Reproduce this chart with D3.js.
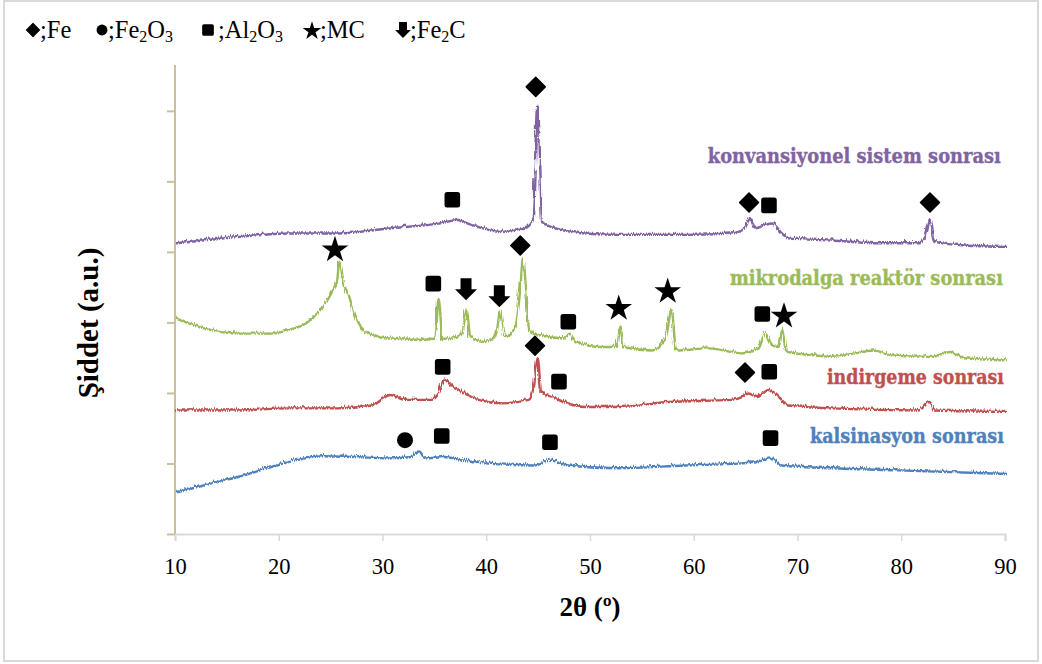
<!DOCTYPE html>
<html><head><meta charset="utf-8">
<script src="https://cdn.jsdelivr.net/npm/d3@7"></script>
<style>body{margin:0;background:#fff}</style>
</head><body><svg id="c" width="1042" height="664"></svg>
<script>
// ---------- data ----------
const xTicks = [10, 20, 30, 40, 50, 60, 70, 80, 90];
const yTicks = [0, 1, 2, 3, 4, 5, 6];
const seriesNames = ["konvansiyonel sistem sonrası", "mikrodalga reaktör sonrası", "indirgeme sonrası", "kalsinasyon sonrası"];
const seriesColors = ["#8064a2", "#9bbb59", "#c0504d", "#4f81bd"];

const konvansiyonel = [[10,4.15],[15.95,4.24],[20.77,4.29],[25.59,4.29],[30.41,4.36],[35.22,4.43],[37.15,4.48],[37.47,4.46],[39.08,4.38],[41.33,4.31],[43.54,4.36],[44.38,4.5],[44.6,5.3],[44.8,6.09],[45.0,5.3],[45.18,4.45],[46.14,4.38],[49.33,4.29],[52.57,4.27],[55.78,4.27],[58.96,4.27],[63.49,4.29],[64.62,4.34],[65.25,4.5],[65.71,4.36],[66.67,4.41],[67.35,4.43],[68.31,4.29],[68.96,4.22],[73.13,4.19],[77.95,4.15],[81.49,4.15],[82.1,4.22],[82.61,4.48],[83.06,4.17],[85.95,4.12],[90,4.1]];
const mikrodalga = [[10,3.08],[12.73,2.94],[15.95,2.87],[19.16,2.87],[20.77,2.92],[22.37,3.01],[23.98,3.22],[24.94,3.46],[25.42,3.6],[25.64,3.89],[26.07,3.58],[26.55,3.41],[27.19,3.13],[28.15,2.89],[30.41,2.8],[33.61,2.78],[34.9,2.8],[35.22,3.36],[35.61,2.78],[37.15,2.82],[37.47,2.85],[37.92,3.22],[38.27,2.82],[39.72,2.75],[40.68,2.82],[41.2,3.19],[41.64,2.82],[42.6,2.94],[43.09,3.51],[43.35,3.93],[43.64,3.51],[43.95,2.92],[44.86,2.85],[47.42,2.8],[47.9,2.87],[48.39,2.75],[50.96,2.68],[52.41,2.68],[52.73,2.97],[53.05,2.68],[55.78,2.63],[57.06,2.78],[57.68,3.2],[58.1,2.63],[61.25,2.66],[64.46,2.59],[66.05,2.66],[66.7,2.87],[67.35,2.71],[67.99,2.68],[68.41,2.94],[68.8,2.61],[71.52,2.56],[73.13,2.54],[75.38,2.59],[77.15,2.63],[78.92,2.56],[82.77,2.54],[84.53,2.61],[85.98,2.52],[90,2.49]];
const indirgeme = [[10,1.78],[15.95,1.78],[20.77,1.81],[25.59,1.81],[28.8,1.85],[30.56,2.0],[32.0,1.93],[34.58,1.93],[35.22,2.02],[35.86,2.21],[36.82,2.09],[37.47,2.04],[39.08,1.93],[41.33,1.88],[43.9,1.93],[44.38,2.09],[44.77,2.52],[45.11,2.04],[46.14,1.97],[49.35,1.83],[52.57,1.83],[57.39,1.9],[63.49,1.93],[64.46,1.97],[65.1,2.02],[65.9,1.97],[67.03,2.07],[68.0,1.97],[68.96,1.85],[73.13,1.81],[81.49,1.78],[82.52,1.9],[83.09,1.78],[90,1.76]];
const kalsinasyon = [[10,0.62],[12.73,0.72],[15.95,0.84],[19.16,0.98],[22.37,1.1],[23.98,1.13],[27.19,1.12],[30.41,1.1],[32.65,1.12],[33.35,1.2],[33.93,1.1],[35.86,1.12],[37.47,1.07],[39.72,1.03],[44.54,1.0],[45.98,1.07],[47.75,1.0],[52.57,0.96],[58.99,1.0],[64.46,1.03],[66.05,1.05],[67.28,1.1],[68.31,1.0],[73.13,0.96],[79.56,0.93],[90,0.88]];
const seriesData = [konvansiyonel, mikrodalga, indirgeme, kalsinasyon];

// phase markers: [type, 2θ, intensity]
const markers = [
  ["diamond",44.77,6.34],["square",36.73,4.74],["diamond",65.33,4.70],["square",67.25,4.66],["diamond",82.77,4.70],
  ["star",25.42,4.05],["square",34.9,3.55],["arrow",38.05,3.47],["arrow",41.26,3.37],["diamond",43.28,4.09],["square",47.91,3.01],["star",52.77,3.22],["star",57.49,3.46],["square",66.61,3.12],["star",68.7,3.11],
  ["square",35.8,2.37],["diamond",44.7,2.67],["square",47.01,2.16],["diamond",64.94,2.29],["square",67.28,2.30],
  ["circle",32.17,1.33],["square",35.71,1.39],["square",46.14,1.30],["square",67.4,1.36]
];
const legendTypes = ["diamond","circle","square","star","arrow"];
const legendLabels = [["Fe"],["Fe","2","O","3"],["Al","2","O","3"],["MC"],["Fe","2","C"]];

// ---------- chart ----------
const svg = d3.select("#c");
const defs = svg.append("defs");
const flt = defs.append("filter").attr("id","grain").attr("filterUnits","userSpaceOnUse")
  .attr("x",0).attr("y",0).attr("width",1042).attr("height",664);
flt.append("feTurbulence").attr("type","turbulence").attr("baseFrequency","0.9 0.04").attr("numOctaves",1).attr("seed",3).attr("result","t");
flt.append("feDisplacementMap").attr("in","SourceGraphic").attr("in2","t").attr("scale",4.8)
  .attr("xChannelSelector","G").attr("yChannelSelector","R");

svg.append("rect").attr("x",4).attr("y",1).attr("width",1034).attr("height",660)
  .attr("fill","#fff").attr("stroke","#d9d9d9").attr("stroke-width",2);

const x = d3.scaleLinear().domain([10,90]).range([175,1005]);
const y = d3.scaleLinear().domain([0,6.65]).range([534,65]);

const serif = "'Liberation Serif','Times New Roman',serif";

// x axis
const xa = svg.append("g").attr("transform","translate(0,534)")
  .call(d3.axisBottom(x).tickValues(xTicks).tickSize(7).tickPadding(17).tickFormat(d3.format("d")));
xa.select(".domain").attr("stroke","#d9d9d9").attr("stroke-width",2);
xa.selectAll(".tick line").attr("stroke","#d9d9d9").attr("stroke-width",1.5);
xa.selectAll("text").attr("font-family",serif).attr("font-size",22.5).attr("fill","#000");

// y axis
const ya = svg.append("g").attr("transform","translate(175,0)")
  .call(d3.axisLeft(y).tickValues(yTicks).tickSize(8).tickFormat(""));
ya.select(".domain").attr("stroke","#c9c09a").attr("stroke-width",2).attr("d","M0,534V65");
ya.selectAll(".tick line").attr("stroke","#c9c09a").attr("stroke-width",2);

// curves
const line = d3.line().x(d=>x(d[0])).y(d=>y(d[1])).curve(d3.curveMonotoneX);
const cg = svg.append("g").attr("filter","url(#grain)");
seriesData.forEach((s,i)=>{
  cg.append("path").datum(s).attr("d",line).attr("fill","none")
    .attr("stroke",seriesColors[i]).attr("stroke-width",2.4).attr("stroke-linejoin","round");
});

// symbol drawing
function sym(g, type, cx, cy, k){
  if(type==="diamond"){
    const r=9.5*k;
    g.append("path").attr("d",`M${cx},${cy-r}L${cx+r},${cy}L${cx},${cy+r}L${cx-r},${cy}Z`)
      .attr("fill","#000").attr("stroke","#000").attr("stroke-width",1.5*k).attr("stroke-linejoin","round");
  } else if(type==="square"){
    const h=7.8*k;
    g.append("rect").attr("x",cx-h).attr("y",cy-h).attr("width",2*h).attr("height",2*h).attr("rx",2.5*k).attr("fill","#000");
  } else if(type==="circle"){
    g.append("circle").attr("cx",cx).attr("cy",cy).attr("r",8*k).attr("fill","#000");
  } else if(type==="star"){
    const R=14*k;
    g.append("path").attr("d",d3.symbol(d3.symbolStar, R*R/0.8908130915292852)()).attr("transform",`translate(${cx},${cy+1.5*k})`).attr("fill","#000");
  } else if(type==="arrow"){
    const w=5.5*k, hw=11*k, top=cy-11*k, mid=cy, bot=cy+11*k;
    g.append("path").attr("d",`M${cx-w},${top}H${cx+w}V${mid}H${cx+hw}L${cx},${bot}L${cx-hw},${mid}H${cx-w}Z`).attr("fill","#000");
  }
}
const mg = svg.append("g");
markers.forEach(m=>sym(mg, m[0], x(m[1]), y(m[2]), 1));

// series labels
const labelPos = [[89.6,5.26],[89.8,3.53],[89.9,2.13],[89.9,1.29]];
const labelW = [293,273,177,194];
seriesNames.forEach((n,i)=>{
  svg.append("text").attr("x",x(labelPos[i][0])).attr("y",y(labelPos[i][1]))
    .attr("text-anchor","end").attr("font-family","'DejaVu Serif',serif")
    .attr("font-weight","bold").attr("font-size",19.5).attr("fill",seriesColors[i])
    .attr("stroke",seriesColors[i]).attr("stroke-width",0.35)
    .attr("textLength",labelW[i]).attr("lengthAdjust","spacingAndGlyphs").text(n);
});

// axis titles
svg.append("text").attr("x",590).attr("y",616).attr("text-anchor","middle")
  .attr("font-family",serif).attr("font-weight","bold").attr("font-size",27)
  .text("2θ (º)");
svg.append("text").attr("transform","translate(98,323) rotate(-90)").attr("text-anchor","middle")
  .attr("font-family",serif).attr("font-weight","bold").attr("font-size",29)
  .text("Şiddet (a.u.)");

// legend
const lg = svg.append("g");
const legSymX = [33,102,208,312,403];
const legTxtX = [40,108,218,320,410];
const legSymScale = [0.7,0.68,0.75,0.7,0.72];
legendTypes.forEach((t,i)=>{
  sym(lg, t, legSymX[i], 30, legSymScale[i]);
  const tx = lg.append("text").attr("x",legTxtX[i]).attr("y",38)
    .attr("font-family",serif).attr("font-size",24.5);
  tx.append("tspan").text(";");
  let sub = false;
  legendLabels[i].forEach(p=>{
    const isSub = /^\d$/.test(p);
    const t2 = tx.append("tspan").text(p);
    if(isSub){ t2.attr("font-size",16).attr("dy",4); sub=true; }
    else if(sub){ t2.attr("dy",-4); sub=false; }
  });
});
</script></body></html>
